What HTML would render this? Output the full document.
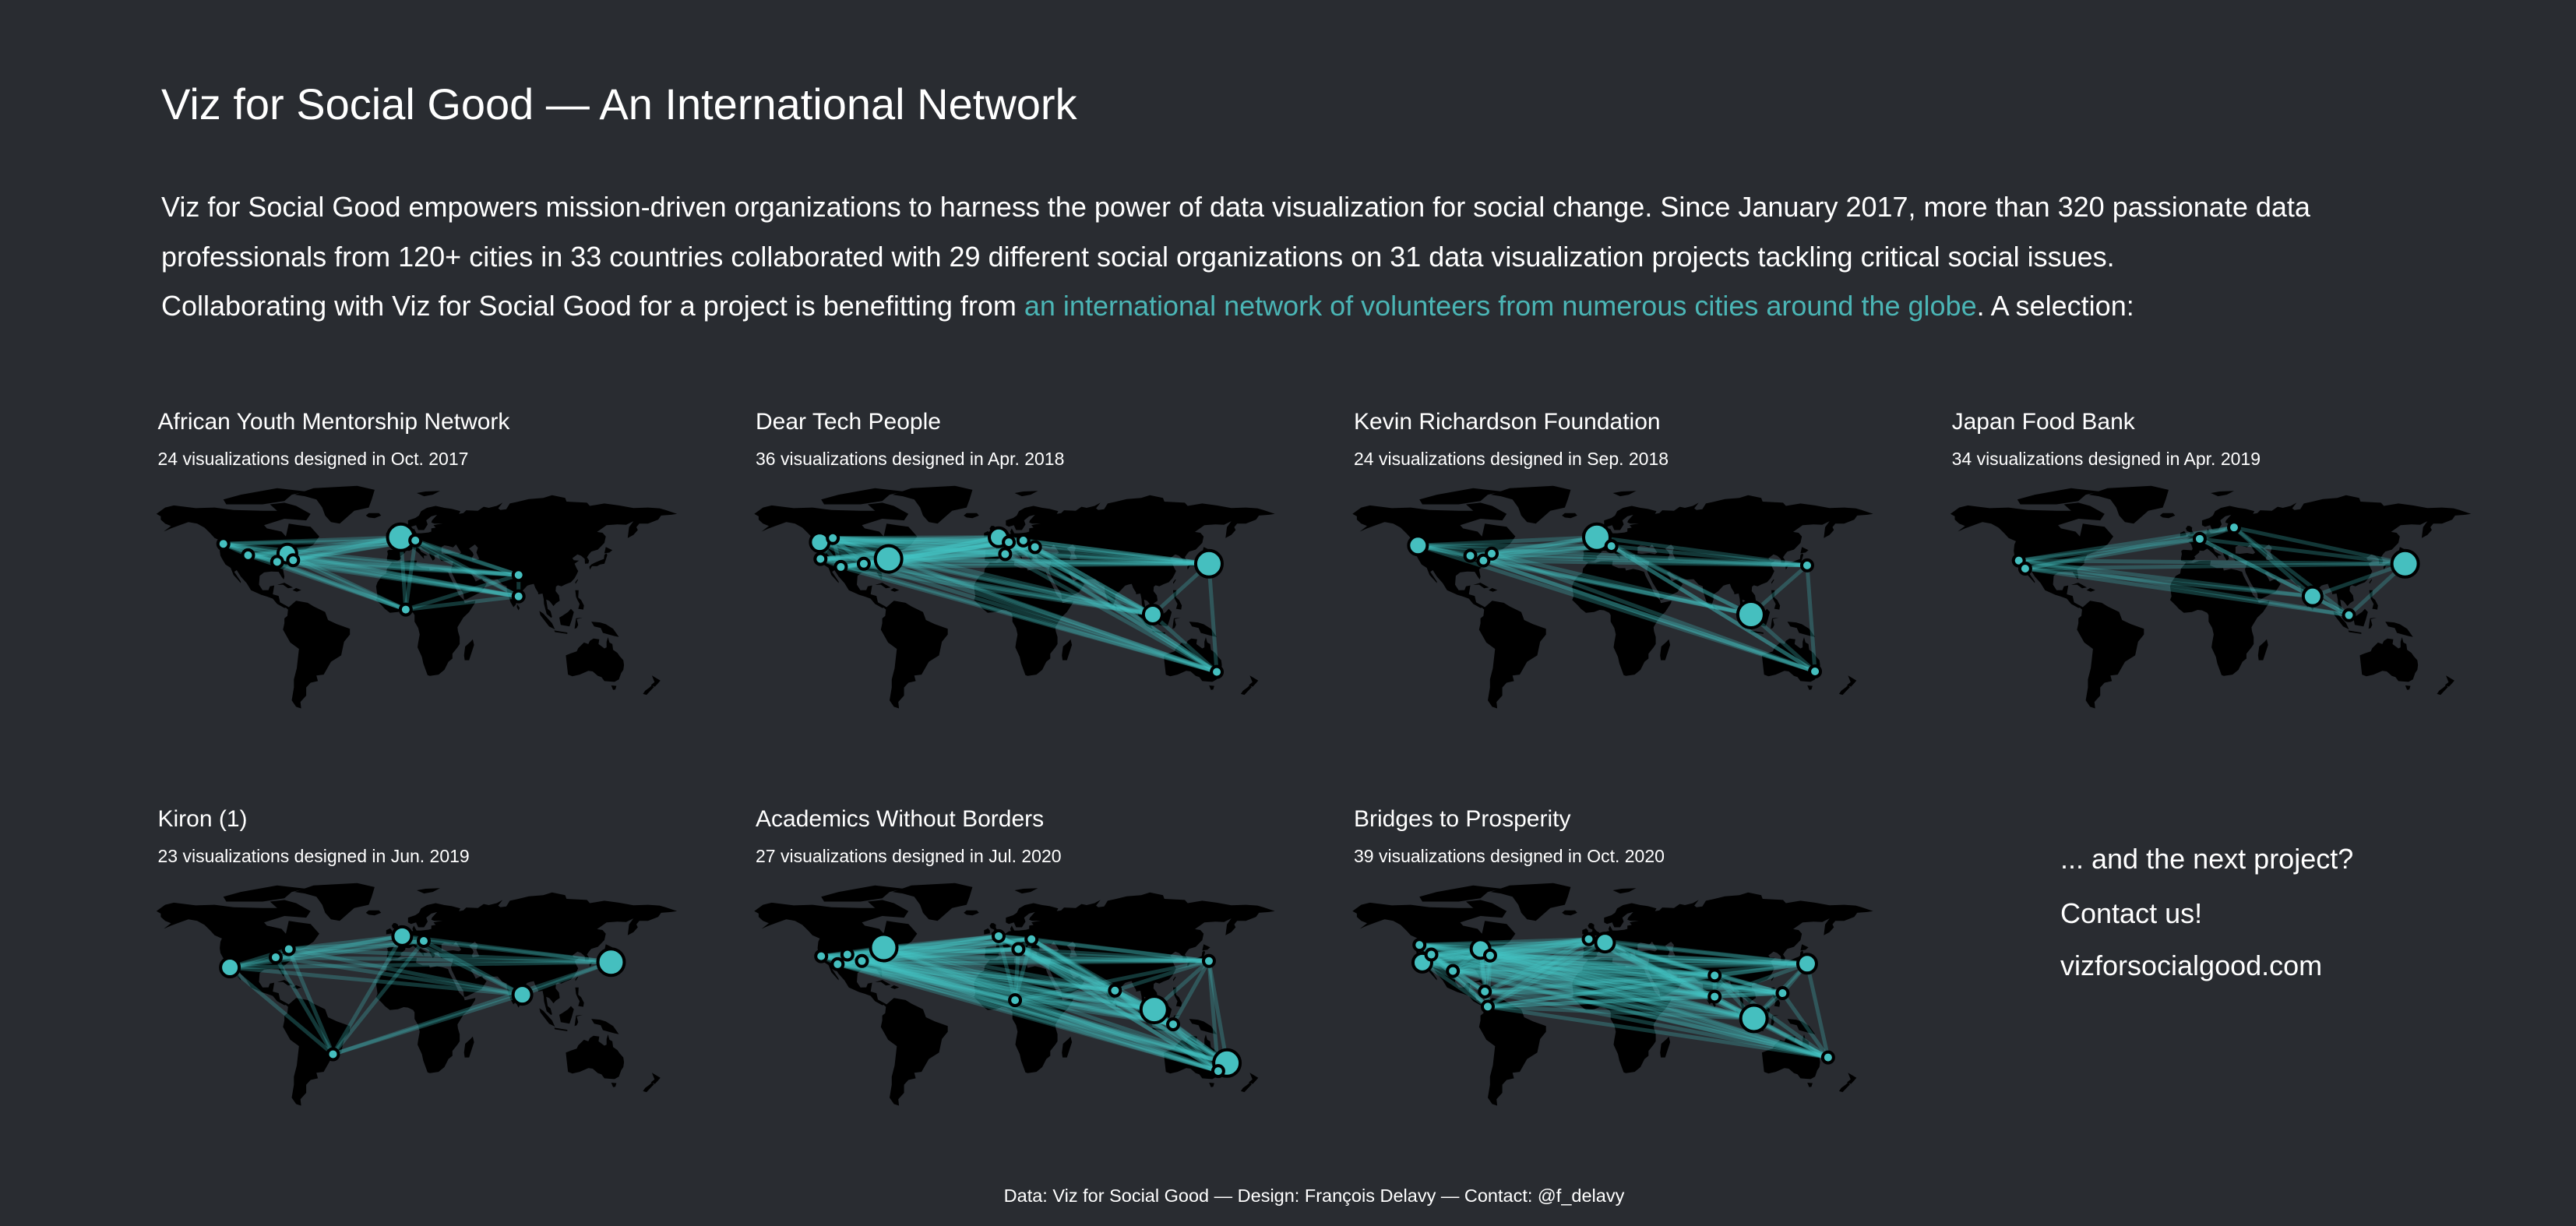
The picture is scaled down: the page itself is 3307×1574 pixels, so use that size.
<!DOCTYPE html>
<html><head><meta charset="utf-8">
<style>
html,body{margin:0;padding:0;background:#292c31;}
svg{display:block;font-family:"Liberation Sans",sans-serif;}
</style></head>
<body>
<svg id="page" width="3307" height="1574" viewBox="0 0 3307 1574" xmlns="http://www.w3.org/2000/svg">
<rect x="0" y="0" width="3307" height="1574" fill="#292c31"/>
<text x="207" y="153" font-size="56" fill="#ffffff">Viz for Social Good — An International Network</text>
<g font-size="36" fill="#ffffff">
<text x="207" y="278">Viz for Social Good empowers mission-driven organizations to harness the power of data visualization for social change. Since January 2017, more than 320 passionate data</text>
<text x="207" y="342">professionals from 120+ cities in 33 countries collaborated with 29 different social organizations on 31 data visualization projects tackling critical social issues.</text>
<text x="207" y="405">Collaborating with Viz for Social Good for a project is benefitting from <tspan fill="#4bb5b5">an international network of volunteers from numerous cities around the globe</tspan>. A selection:</text>
</g>
<g id="panels"></g>
<g font-size="36" fill="#ffffff">
<text x="2645" y="1115">... and the next project?</text>
<text x="2645" y="1185">Contact us!</text>
<text x="2645" y="1252">vizforsocialgood.com</text>
</g>
<text x="1687" y="1543" font-size="23.5" fill="#ffffff" text-anchor="middle">Data: Viz for Social Good — Design: François Delavy — Contact: @f_delavy</text>
</svg>
<script>
// ---- data ----
const projectNames = ["African Youth Mentorship Network","Dear Tech People","Kevin Richardson Foundation","Japan Food Bank","Kiron (1)","Academics Without Borders","Bridges to Prosperity"];
const projectSubtitles = ["24 visualizations designed in Oct. 2017","36 visualizations designed in Apr. 2018","24 visualizations designed in Sep. 2018","34 visualizations designed in Apr. 2019","23 visualizations designed in Jun. 2019","27 visualizations designed in Jul. 2020","39 visualizations designed in Oct. 2020"];
const cityLon = [
 [-122,-105,-85,-78,-74,0,10,3.4,81,81],
 [-123,-114,-122.5,-108.5,-92.7,-75.7,0,7,17,25,4.5,144.6,106,150],
 [-123,-87,-78,-72.3,0,10,144.6,106,150],
 [-121,-116.6,3.4,27,81,144.6,106],
 [-117.5,-86,-77,1,15.8,144.6,83.6,-46.6],
 [-79,-122,-110.7,-104,-94,0,13.6,22.6,11.3,80,144.6,107,120,157,151],
 [-122,-120,-113.8,-99,-80,-73.4,-5.6,5.6,-77,-75,81,81,108,144.6,127.7,159]
];
const cityLat = [
 [47.4,40.3,36.2,41.3,37.2,51.5,49.5,6.5,28,14.7],
 [48.4,51,38,33,35,38,51.5,48.4,49.5,45.4,41,35,3.4,-32.3],
 [46.4,40,37,41.3,51.5,46,34,3.4,-32],
 [37,32,50.5,57.6,14.7,35,3],
 [31,37.3,42.4,50.5,47.5,34.3,14,-23],
 [43.4,38,33,39,35,50.5,42.4,48.6,10.6,16.6,35,4.8,-4.4,-28.5,-33.5],
 [45,34,39,28.8,42.5,38.4,48.6,46.5,16,6.6,26,12.8,-0.7,33.3,15,-25]
];
const citySize = [
 [1,1,1,2,1,3,1,1,1,1],
 [2,1,1,1,1,3,2,1,1,1,1,3,2,1],
 [2,1,1,1,3,1,1,3,1],
 [1,1,1,1,2,3,1],
 [2,1,1,2,1,3,2,1],
 [3,1,1,1,1,1,1,1,1,1,1,3,1,3,1],
 [1,2,1,1,2,1,1,2,1,1,1,1,3,2,1,1]
];
// ---- layout ----
const panelX = [202.5, 970, 1738, 2505.6];
const rowY = [540, 1050];
const radius = [0, 7, 12, 17];
const land = [
[[-168,66],[-162,70],[-156,71.3],[-141,69.6],[-128,70],[-115,68.5],[-95,68],[-82,68],[-80,63],[-94,59],[-92,57],[-82,55],[-79,52],[-77,60],[-70,59],[-62,58],[-56,52],[-60,47],[-65,44],[-70,42],[-74,40.5],[-76,37],[-76,35],[-81,31.5],[-80,27],[-80.5,25.2],[-82,27],[-84,30],[-89,30.2],[-94,29.6],[-97,27.5],[-97.5,22],[-95,18.5],[-91,18.6],[-90,21],[-87,21.5],[-88,16],[-84,15],[-83,11],[-79,9],[-77,8],[-80,7.5],[-85,10],[-88,13.3],[-92,14.6],[-96,15.7],[-103,18.5],[-106,23],[-110,27],[-112.8,31],[-114.5,30],[-110,24],[-110,23],[-112,25],[-115,28],[-117,32.5],[-120.5,34.5],[-122.5,37.5],[-124,40],[-124.5,43],[-124,47],[-123,49],[-128,51],[-131,54],[-135,57.5],[-140,60],[-146,61],[-152,59],[-158,57],[-163,55],[-158,58.5],[-162,60],[-165,62.5],[-165,64.5]],
[[-120,72],[-95,72],[-80,74],[-75,78],[-65,80],[-85,82],[-110,78],[-122,75]],
[[-80,63],[-65,62],[-62,66],[-72,71],[-80,73],[-90,72],[-85,68]],
[[-73,78],[-60,82],[-30,83.5],[-18,81],[-20,75],[-22,70],[-32,68],[-42,60],[-48,61],[-52,65],[-54,70],[-58,75],[-66,77]],
[[-24,65],[-22,66.5],[-15,66.5],[-13.5,65],[-18,63.4],[-22,63.8]],
[[-80,8.5],[-77,8],[-72,12],[-64,10.7],[-60,8.5],[-52,5],[-50,0],[-44,-2.5],[-35,-5.5],[-35,-9],[-39,-13.5],[-41,-22],[-48,-26],[-53,-34],[-58,-34.5],[-57,-38],[-62,-39],[-65,-42],[-65,-47],[-69,-51],[-68.5,-55],[-72,-54],[-75,-50],[-73.5,-42],[-73.5,-37],[-71.5,-30],[-70,-18],[-76,-14],[-81,-6],[-80,-2],[-80,1],[-78,2.5],[-77.5,6.5]],
[[-17,21],[-16,14.7],[-17,12.5],[-13,9],[-11,7],[-7.5,4.5],[-2,5],[2,6.3],[5,6],[8.5,4.5],[9.5,3],[9.5,-1],[12,-5],[13,-9],[12,-14],[11.5,-17],[14.5,-23],[15.5,-27],[18.4,-34.3],[20,-34.8],[26,-34],[30,-31],[32.8,-26],[35.5,-24],[35.5,-21],[39,-17],[40.5,-15],[40.5,-10.5],[39.3,-7],[39,-4.5],[41,-1.5],[43,1.5],[47,5],[51,10.5],[51.3,12],[44,10.5],[43.4,12.5],[40,15.5],[38.5,18.5],[37,21.5],[35.5,24],[33.5,27.5],[32.5,30],[29,31],[25,31.8],[20,30.8],[19.5,32.3],[15,32.3],[10.5,34],[11,37],[8,37],[3,36.8],[-1,35.5],[-6,35.8],[-9.5,32],[-10,29],[-13,27.5],[-16,23.5]],
[[44,-25],[47,-25],[50.4,-15.5],[49.5,-12],[48,-13.5],[44.3,-16.5],[43.5,-22]],
[[-9.5,37],[-6,36.2],[-2,36.7],[0.5,38.5],[-0.3,39.5],[3,42],[3.2,43.2],[6,43],[8.5,44.4],[10.5,43],[12.5,41.5],[16,38],[15.8,40],[18.5,40.2],[17,41],[14,42.5],[12.3,45.2],[13.7,45.7],[15,44.5],[19.5,41.8],[20,40],[22,37],[23.5,38],[23,40.4],[26,40.7],[26.5,38.5],[28,36.7],[31,36.8],[36,36.5],[35.5,34],[34.5,31.5],[35,29.5],[38.5,23],[43,16.5],[43.5,12.7],[45,12.8],[52,16],[55.5,17.5],[59,22.5],[56.5,24.5],[56,26],[51.5,24],[50.5,26],[48,29.5],[50,30],[54,27],[57,25.8],[62,25.2],[66.5,25.4],[68.5,23.5],[70,22],[72.8,21],[73,18],[74,15],[75.5,11],[77.5,8],[79,9.5],[80.3,13],[80,15.8],[83.5,18],[87,21.4],[89,22],[91.5,22.5],[92.5,20],[94.5,17],[94.5,16],[97.5,16.5],[98.3,13],[98.5,10],[99.5,6.5],[100.3,3.8],[103.5,1.3],[104,2],[103,5.5],[101,7],[100,12.7],[102,12],[103,11],[105,8.7],[106.7,10.4],[109.3,12],[108.8,15.3],[106.5,18],[106.7,20.7],[108,21.6],[110.5,21],[113.5,22.3],[117,23.5],[119.5,26],[121,28.5],[122,30.5],[121,32],[119.5,35],[122.5,37],[119,37.2],[118,38.5],[121.5,40.8],[124,40],[126.5,38],[126.7,35],[129,35.2],[129.5,37],[128,39],[129.5,41],[131,42.6],[135.5,43.8],[140,48],[141,52],[138.7,54.3],[135,54.8],[141.5,59],[149,59.5],[155,59.3],[160,61.5],[157,57.8],[156,51],[160,53],[163,56],[162,57.8],[164,60],[170,60],[177,62.5],[179,65],[186,65.5],[190,66],[182,68.5],[178,69.5],[170,70],[160,69.7],[150,71.3],[140,72.5],[130,71],[128,73],[114,73.7],[113,76],[104,77.7],[98,76],[88,75.3],[80,73.5],[75,72.5],[72.5,69],[68.5,68.5],[67,69.5],[70,73],[66,71],[60.5,69.8],[57,70.5],[53,68],[45,68.3],[43,66.5],[40,66],[41,67.7],[35,69.2],[30,69.8],[24,71],[18,69.8],[14,67.7],[12.5,65],[10,63.5],[5,62],[5,59],[7,58],[10.5,59],[12,56],[16,56],[18.5,59.5],[17.5,62],[21,64.5],[25,65.5],[21.5,62],[21,60.7],[23,60],[29,60],[25,59.5],[22.5,59],[24,57.5],[21,57],[21,55],[19,54.5],[14,54],[10.8,54],[9,57],[8,55],[8.5,53.7],[7,53.5],[4.5,52],[3,51.3],[1.6,50.9],[1.4,50],[-1.5,49.7],[-4.5,48.6],[-2.5,47.3],[-1.5,44.5],[-2,43.4],[-8,43.7],[-9.3,43],[-8.9,41],[-9.5,38.7]],
[[-5.7,50],[1.7,51.3],[1.7,52.8],[0,53.5],[-1.5,55],[-2,56],[-1.8,57.6],[-3.5,58.6],[-5,58.6],[-6.2,57],[-5.5,55.5],[-3,54.5],[-3.2,53.3],[-4.6,52.8],[-5,51.7],[-3,51.4]],
[[-10,51.6],[-6,52.2],[-6,53.9],[-7.3,55.3],[-10,54.2]],
[[130,31.3],[131.5,33.5],[135,33.5],[137,34.5],[140,35],[141,37.5],[142,40.5],[141.3,41.5],[140,40.5],[139.7,38],[136.7,37],[133,35.5],[131,34.5],[129.7,33.2]],
[[140,41.5],[141,45.4],[145.5,43.5],[143.5,42]],
[[120.2,22.5],[121.9,25],[121.5,25.3],[120,23.5]],
[[120,18.5],[122.3,18.5],[122,14],[124,12.5],[126,9],[125.5,6.5],[122,7],[123,10],[121.5,12.5],[120.5,14.5]],
[[95.3,5.6],[98,4],[104,-2],[106,-5.8],[102,-4],[99,-0.5],[96,3]],
[[105.5,-6.5],[114.5,-7.8],[114.5,-8.7],[106,-7.5]],
[[109,1.5],[110,-3],[116,-4],[117.5,0],[119,5],[117,7],[115,5],[111,2.5]],
[[119.5,-5.5],[120.5,1],[125,1.5],[121,0.5],[122,-3],[121,-5]],
[[131,-1],[137,-1.5],[141,-2.6],[146,-5.5],[150,-10.5],[147,-10],[143,-9],[139,-8],[137.5,-5],[133,-4]],
[[113.5,-22],[114,-26],[115,-34],[118,-35],[123,-34],[129,-31.6],[132,-32],[135.5,-34.8],[138,-35.5],[140,-38],[144,-38.3],[147,-38.5],[150,-37],[151.5,-33],[153,-31],[153.5,-28],[153,-25],[150.5,-22.5],[149,-20.5],[146,-18.5],[145.5,-15],[143.5,-14],[142.5,-10.7],[141.5,-13.5],[141.5,-17],[140,-17.7],[136,-15],[136.5,-12],[132.5,-11.5],[130,-13],[129,-15],[126,-14],[122,-17.5],[121,-19.5],[117,-20.7]],
[[144.7,-40.7],[148.3,-41],[147.5,-43.3],[146,-43.5]],
[[172.7,-34.5],[178.5,-37.7],[176.8,-39.5],[174.7,-41.5],[172,-40.5],[174.5,-38.7]],
[[172.8,-40.5],[174,-41.8],[171.2,-44.5],[169,-46.6],[166.5,-46],[168,-44],[171,-42]],
[[79.8,8],[80,9.8],[81.8,7.5],[81,6]],
[[11,79],[17,80],[27,80.3],[22,78],[16,77]],
[[-85,21.8],[-80,23.2],[-74.2,20.2],[-77.5,19.8],[-81,22]],
[[-74.4,18.5],[-72,19.9],[-68.4,18.6],[-71.5,17.6]]
];
const seas = [
[[28,41.5],[28,45.5],[30,46.5],[33,46],[36,45.2],[38,47],[41.5,42],[40,41],[36,41.7],[31,41.2]],
[[47,44.5],[51,47],[53,45],[52,42],[54,38],[49.5,37.2],[48.8,38.5],[50,40.5],[49.5,42]]
];
const NS = "http://www.w3.org/2000/svg";
function xScale(px, lon){ return px + 312 + 1.867*lon; }
function yScale(py, lat){ return py + 256 - 2.063*lat; }
function mk(tag, attrs, parent){ const e=document.createElementNS(NS,tag); for(const k in attrs) e.setAttribute(k,attrs[k]); parent.appendChild(e); return e; }
const root = document.getElementById('panels');
projectNames.forEach((name, p) => {
  const px = panelX[p % 4], py = rowY[Math.floor(p / 4)];
  const g = mk('g', {}, root);
  
  
  const t = mk('text', {x: px, y: py + 11, 'font-size': 30, fill: '#ffffff'}, g);
  t.textContent = name;
  
  
  const s = mk('text', {x: px, y: py + 57, 'font-size': 23, fill: '#ffffff'}, g);
  s.textContent = projectSubtitles[p];
  
  
  const mapG = mk('g', {}, g);
  
  
  land.forEach(poly => {
    const d = 'M' + poly.map(c => xScale(px, c[0]).toFixed(1) + ',' + yScale(py, c[1]).toFixed(1)).join('L') + 'Z';
    const path = mk('path', {d: d, fill: '#000000'}, mapG);
    
    
  });
  seas.forEach(poly => {
    const d = 'M' + poly.map(c => xScale(px, c[0]).toFixed(1) + ',' + yScale(py, c[1]).toFixed(1)).join('L') + 'Z';
    const path = mk('path', {d: d, fill: '#292c31'}, mapG);
    
    
  });
  const lons = cityLon[p], lats = cityLat[p], sz = citySize[p];
  const linkG = mk('g', {}, g);
  
  
  for (let i = 0; i < lons.length; i++) {
    for (let j = i + 1; j < lons.length; j++) {
      const ln = mk('line', {x1: xScale(px, lons[i]), y1: yScale(py, lats[i]), x2: xScale(px, lons[j]), y2: yScale(py, lats[j]), stroke: '#46c6c6', 'stroke-width': 5, 'stroke-opacity': 0.28}, linkG);
      
      
    }
  }
  const order = lons.map((_, i) => i).sort((a, b) => sz[b] - sz[a]);
  order.forEach(i => {
    const c = mk('circle', {cx: xScale(px, lons[i]), cy: yScale(py, lats[i]), r: radius[sz[i]], fill: '#45bfbf', stroke: '#000000', 'stroke-width': 4}, g);
    
    
  });
});
</script>
</body></html>
